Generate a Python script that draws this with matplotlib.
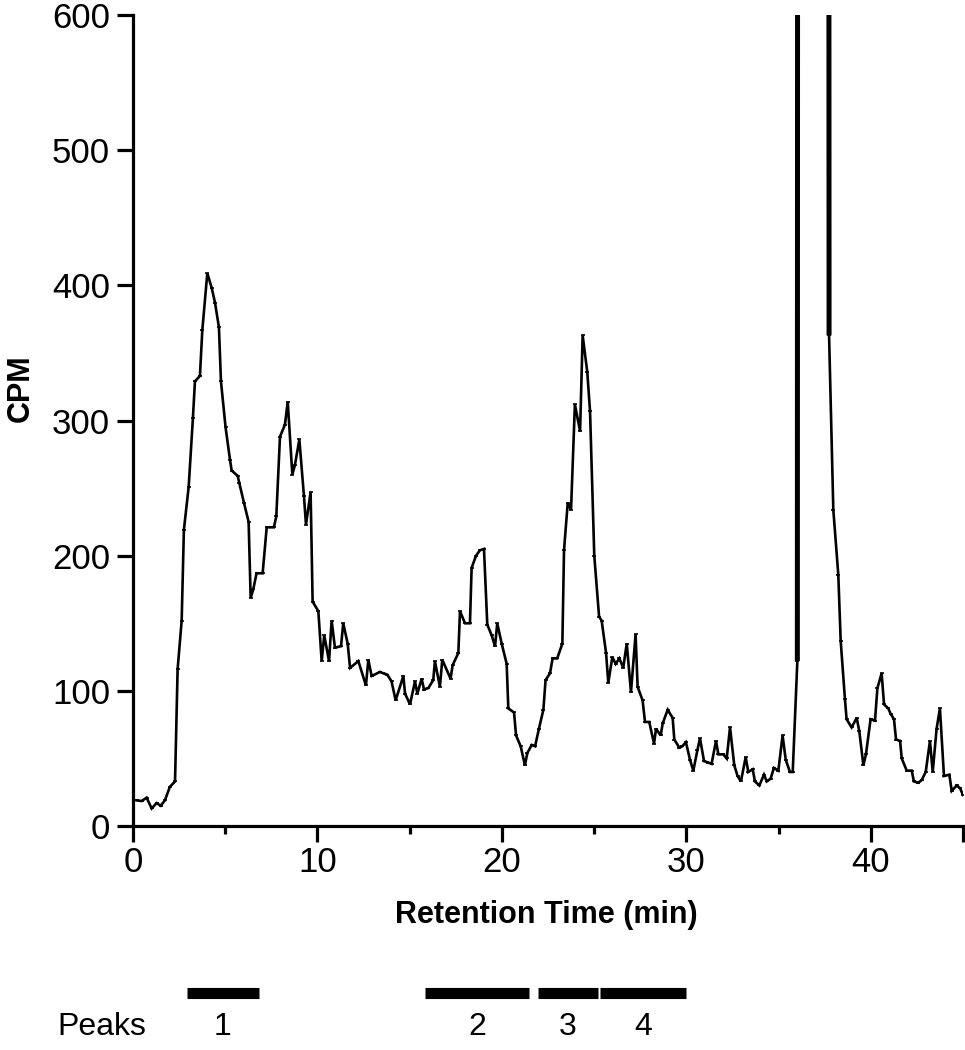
import numpy as np
import matplotlib
matplotlib.use("Agg")
import matplotlib.pyplot as plt

plt.rcParams['font.family'] = ['Liberation Sans', 'DejaVu Sans']

# retention time (min) and counts per minute
# values of 1000 stand for the off-scale peak near 36-38 min
t = [0.2, 0.47, 0.74, 1.01, 1.28, 1.5, 1.73, 2.0, 2.28, 2.42, 2.64, 2.76, 3.02,
     3.25, 3.36, 3.63, 3.76, 4.03, 4.27, 4.45, 4.66, 4.77, 5.02, 5.26, 5.35,
     5.68, 5.76, 6.02, 6.27, 6.38, 6.52, 6.7, 7.03, 7.25, 7.64, 7.77, 7.97,
     8.24, 8.39, 8.64, 8.78, 9.02, 9.27, 9.38, 9.63, 9.74, 10.05, 10.23, 10.37,
     10.63, 10.77, 10.95, 11.28, 11.4, 11.64, 11.77, 12.22, 12.63, 12.76, 12.94,
     13.39, 13.57, 13.79, 14.02, 14.24, 14.66, 14.75, 15.02, 15.29, 15.42,
     15.65, 15.78, 16.01, 16.28, 16.37, 16.64, 16.77, 17.22, 17.33, 17.64,
     17.73, 18.0, 18.27, 18.36, 18.6, 18.81, 19.03, 19.21, 19.45, 19.63, 19.75,
     19.99, 20.26, 20.35, 20.66, 20.77, 21.02, 21.25, 21.38, 21.62, 21.8, 22.01,
     22.25, 22.37, 22.61, 22.75, 23.0, 23.28, 23.37, 23.57, 23.75, 23.96, 24.24,
     24.38, 24.63, 24.78, 25.01, 25.27, 25.41, 25.65, 25.77, 25.99, 26.17,
     26.37, 26.58, 26.77, 27.0, 27.25, 27.36, 27.63, 27.76, 27.99, 28.25, 28.36,
     28.61, 28.72, 28.99, 29.26, 29.35, 29.62, 29.78, 29.98, 30.2, 30.38, 30.6,
     30.74, 30.96, 31.19, 31.37, 31.61, 31.74, 32.01, 32.19, 32.37, 32.6, 32.78,
     32.96, 33.22, 33.36, 33.6, 33.72, 33.96, 34.21, 34.36, 34.57, 34.75, 34.99,
     35.22, 35.39, 35.62, 35.77, 36.02, 36.04, 37.72, 37.74, 37.97, 38.24,
     38.37, 38.6, 38.69, 38.96, 39.24, 39.38, 39.6, 39.74, 39.99, 40.23, 40.36,
     40.59, 40.72, 40.95, 41.08, 41.26, 41.37, 41.59, 41.68, 41.95, 42.22,
     42.34, 42.58, 42.76, 42.98, 43.21, 43.36, 43.57, 43.75, 43.97, 44.26,
     44.39, 44.66, 44.84, 45.0]
cpm = [19, 18.5, 21, 13, 17, 15, 19, 29, 33, 116, 152, 219, 251,
       302, 329, 333, 367, 409, 398, 387, 369, 329, 295, 271, 263,
       259, 254, 239, 225, 169, 175, 187, 187, 221, 221, 229, 288,
       297, 314, 260, 267, 286, 244, 223, 247, 166, 159, 122, 141,
       122, 152, 132, 133, 150, 135, 117, 122, 104, 123, 111,
       114, 113, 112, 107, 93, 111, 98, 90, 107, 98,
       109, 101, 102, 108, 122, 103, 123, 109, 119, 128,
       159, 150, 150, 191, 200, 204, 205, 149, 141, 133, 150,
       135, 120, 87, 84, 67, 59, 45, 54, 60, 59, 72,
       86, 108, 113, 124, 124, 135, 204, 239, 234, 312, 292,
       363, 336, 307, 200, 155, 152, 128, 106, 125, 120,
       124, 117, 135, 99, 142, 103, 93, 77, 77, 61, 72,
       67, 76, 86, 80, 64, 58, 59, 62, 49, 41, 56,
       65, 48, 47, 46, 63, 53, 53, 50, 73, 45, 37,
       33, 51, 40, 42, 33, 30, 38, 33, 35, 43, 41,
       67, 49, 40, 40, 122, 1000, 1000, 363, 234, 186,
       137, 94, 79, 73, 80, 70, 45, 53, 79, 78, 102,
       113, 90, 87, 83, 79, 64, 63, 50, 41, 41,
       33, 32, 34, 40, 63, 40, 72, 87, 37, 38,
       26, 30, 28, 23]

# peak collection windows (min)
peak_labels = ['1', '2', '3', '4']
peak_start = [2.93, 15.84, 21.96, 25.3]
peak_end = [6.83, 21.48, 25.2, 30.0]

t = np.array(t)
cpm = np.array(cpm, dtype=float)

fig = plt.figure(figsize=(9.65, 10.5), dpi=100)
ax = fig.add_axes([0.1378, 0.2133, 0.8601, 0.7724])

ax.plot(t, cpm, color='black', lw=1.9, marker='_', markersize=3.5,
        markeredgewidth=1.2, solid_joinstyle='miter')

# the off-scale peak is drawn heavier
off = np.where(cpm > 600)[0]
for i in [off[0] - 1, off[-1]]:
    ax.plot(t[i:i + 2], cpm[i:i + 2], color='black', lw=3.6,
            solid_capstyle='butt')

ax.set_xlim(0, 45)
ax.set_ylim(0, 600)
ax.spines['top'].set_visible(False)
ax.spines['right'].set_visible(False)
ax.spines['left'].set_linewidth(2.3)
ax.spines['bottom'].set_linewidth(2.3)

ax.set_xticks([0, 10, 20, 30, 40, 45], labels=['0', '10', '20', '30', '40', ''])
ax.set_xticks([5, 15, 25, 35], minor=True)
ax.set_yticks(np.arange(0, 601, 100))
ax.tick_params(axis='both', which='major', direction='out', length=11.5,
               width=2.3, labelsize=25, color='black')
ax.tick_params(axis='x', which='major', pad=3)
ax.tick_params(axis='y', which='major', pad=5)
ax.tick_params(axis='x', which='minor', direction='out', length=6, width=2.3)

fig.text(0.021, 1 - 388 / 1050, 'CPM', rotation=90, fontsize=22,
         fontweight='bold', ha='center', va='center')
fig.text(546 / 965, 1 - 915 / 1050, 'Retention Time (min)', fontsize=22,
         fontweight='bold', ha='center', va='center')

# peak bars and numbers below the axis
trans = ax.get_xaxis_transform()
ax.hlines([-0.206] * len(peak_start), peak_start, peak_end, colors='black',
          lw=8, transform=trans, clip_on=False)
for s, e, lab in zip(peak_start, peak_end, peak_labels):
    ax.text((s + e) / 2, -0.248, lab, transform=trans, ha='center',
            va='center', fontsize=23)
fig.text(102 / 965, 1 - 1027 / 1050, 'Peaks', ha='center', va='center',
         fontsize=23)

fig.savefig('out.png', dpi=100)
